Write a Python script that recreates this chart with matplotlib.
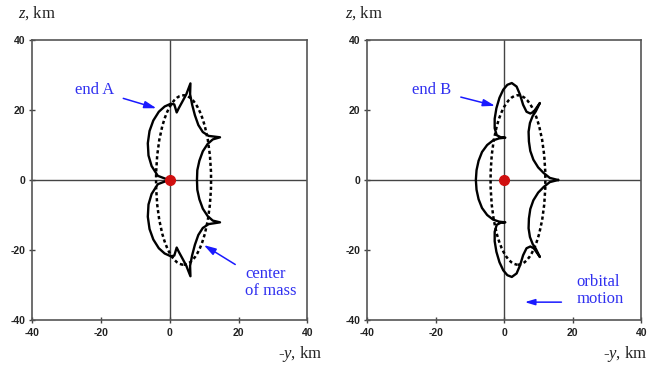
import matplotlib
matplotlib.use("Agg")
from matplotlib import pyplot as plt
from matplotlib.patches import Ellipse

plt.rcParams["font.family"] = "Liberation Serif"
plt.rcParams["mathtext.fontset"] = "custom"
plt.rcParams["mathtext.rm"] = "Liberation Serif"
plt.rcParams["mathtext.it"] = "Liberation Serif:italic"

# axis range / ticks
ticks = [-40, -20, 0, 20, 40]
tick_labels = ["-40", "-20", "0", "20", "40"]

# center-of-mass orbit (dotted ellipse), km
com_center = (4.0, 0.0)
com_width = 16.0
com_height = 48.4

# end A trajectory (-y, z), km
end_a_y = [-0.3, -3.5, -5.3, -6.2, -6.4, -5.9, -4.8, -3.2, -1.5, 0.3, 1.3, 2.0, 2.6,
           3.6, 4.8, 6.0, 5.9, 6.5, 7.3, 8.3, 9.6, 11.3, 14.6, 12.5, 11.0, 9.6, 8.6,
           8.0, 7.9, 8.0, 8.6, 9.6, 11.0, 12.5, 14.6, 11.3, 9.6, 8.3, 7.3, 6.5, 5.9,
           6.0, 4.8, 3.6, 2.6, 2.0, 1.3, 0.3, -1.5, -3.2, -4.8, -5.9, -6.4, -6.2,
           -5.3, -3.5, -0.3]
end_a_z = [0.0, 1.2, 4.0, 7.0, 10.5, 14.0, 17.0, 19.5, 21.0, 21.8, 21.6, 19.3, 20.5,
           22.3, 24.5, 27.6, 24.5, 21.5, 18.5, 15.7, 13.7, 12.6, 12.2, 11.6, 10.3, 8.2,
           5.5, 2.8, 0.0, -2.8, -5.5, -8.2, -10.3, -11.6, -12.1, -12.6, -13.7, -15.7,
           -18.5, -21.5, -24.5, -27.5, -24.5, -22.3, -20.5, -19.3, -21.6, -21.8, -21.0,
           -19.5, -17.0, -14.0, -10.5, -7.0, -4.0, -1.2, 0.0]

# end B trajectory (-y, z), km
end_b_y = [15.7, 13.3, 11.5, 9.9, 8.5, 7.6, 7.2, 7.1, 7.5, 8.3, 9.2, 10.4, 8.6, 7.6,
           6.5, 5.5, 4.6, 3.6, 2.2, 0.9, -0.3, -1.4, -2.3, -2.8, -2.8, -2.2, -1.0, 0.3,
           -1.5, -3.3, -5.0, -6.5, -7.5, -8.1, -8.3, -8.1, -7.5, -6.5, -5.0, -3.3, -1.5,
           0.3, -1.0, -2.2, -2.8, -2.8, -2.3, -1.4, -0.3, 0.9, 2.2, 3.6, 4.6, 5.5, 6.5,
           7.6, 8.6, 10.4, 9.2, 8.3, 7.5, 7.1, 7.2, 7.6, 8.5, 9.9, 11.5, 13.3, 15.7]
end_b_z = [0.0, 0.6, 2.0, 3.6, 5.8, 8.3, 11.0, 13.8, 16.3, 18.3, 19.6, 22.0, 19.5,
           19.0, 19.5, 21.5, 24.4, 26.7, 27.7, 27.2, 25.8, 23.5, 20.5, 17.5, 14.8, 12.8,
           12.2, 12.1, 11.9, 11.3, 10.0, 8.0, 5.5, 2.8, 0.0, -2.8, -5.5, -8.0, -10.0,
           -11.3, -11.9, -12.1, -12.2, -12.8, -14.8, -17.5, -20.5, -23.5, -25.8, -27.2,
           -27.7, -26.7, -24.4, -21.5, -19.5, -19.0, -19.5, -22.0, -19.6, -18.3, -16.3,
           -13.8, -11.0, -8.3, -5.8, -3.6, -2.0, -0.6, 0.0]

text_blue = "#3030f0"
arrow_blue = "#1a1aff"


def draw_panel(ax, ys, zs):
    ax.set_xlim(-40, 40)
    ax.set_ylim(-40, 40)
    ax.axhline(0, color="#444444", lw=1.0, zorder=1)
    ax.axvline(0, color="#444444", lw=1.0, zorder=1)
    ax.add_patch(Ellipse(com_center, com_width, com_height, fill=False,
                         edgecolor="black", lw=1.8, linestyle=(0, (1.3, 1.1)), zorder=2))
    ax.plot(ys, zs, color="black", lw=1.7, solid_joinstyle="round", zorder=3)
    ax.plot(0, 0, "o", color="#d01010", ms=7, zorder=4)
    ax.set_xticks(ticks)
    ax.set_yticks(ticks)
    ax.set_xticklabels(tick_labels)
    ax.set_yticklabels(tick_labels)
    ax.tick_params(direction="inout", length=4, width=1, color="#444444",
                   labelsize=7.5, labelcolor="#222222")
    ax.tick_params(axis="x", pad=4)
    ax.tick_params(axis="y", pad=3)
    for lab in ax.get_xticklabels() + ax.get_yticklabels():
        lab.set_fontfamily("Liberation Sans")
        lab.set_fontweight("bold")
    for sp in ax.spines.values():
        sp.set_color("#555555")
        sp.set_linewidth(1.2)


fig = plt.figure(figsize=(6.5, 3.66), dpi=100)
ax1 = fig.add_axes([0.0497, 0.1257, 0.4231, 0.765])
ax2 = fig.add_axes([0.5651, 0.1257, 0.4214, 0.765])

draw_panel(ax1, end_a_y, end_a_z)
draw_panel(ax2, end_b_y, end_b_z)

arrow = dict(arrowstyle="-|>,head_length=0.6,head_width=0.18", color=arrow_blue, lw=1.1)

ax1.annotate("end A", xy=(-3.9, 20.5), xytext=(-27.7, 25.8), color=text_blue,
             fontsize=12, va="center", ha="left",
             arrowprops=dict(arrow, shrinkA=5, shrinkB=0))
ax1.annotate("center\nof mass", xy=(9.9, -18.6), xytext=(21.9, -29.2), color=text_blue,
             fontsize=12, va="center", ha="left", linespacing=1.1,
             arrowprops=dict(arrow, shrinkA=6, shrinkB=0,
                             relpos=(0.0, 0.85)))
ax2.annotate("end B", xy=(-2.7, 21.2), xytext=(-26.9, 25.8), color=text_blue,
             fontsize=12, va="center", ha="left",
             arrowprops=dict(arrow, shrinkA=5, shrinkB=0))
ax2.text(21.2, -31.5, "orbital\nmotion", color=text_blue, fontsize=12,
         va="center", ha="left", linespacing=1.1)
ax2.annotate("", xy=(6.0, -34.9), xytext=(16.7, -34.9),
             arrowprops=dict(arrow, shrinkA=0, shrinkB=0))

for x0, x1 in [(18, 322), (345, 647)]:
    fig.text(x0 / 650, 1 - 13 / 366, "$z$, km", fontsize=12, color="#222222",
             ha="left", va="center")
    fig.text(x1 / 650, 1 - 354 / 366, "-$y$, km", fontsize=12, color="#222222",
             ha="right", va="center")

fig.savefig("out.png", dpi=100)
